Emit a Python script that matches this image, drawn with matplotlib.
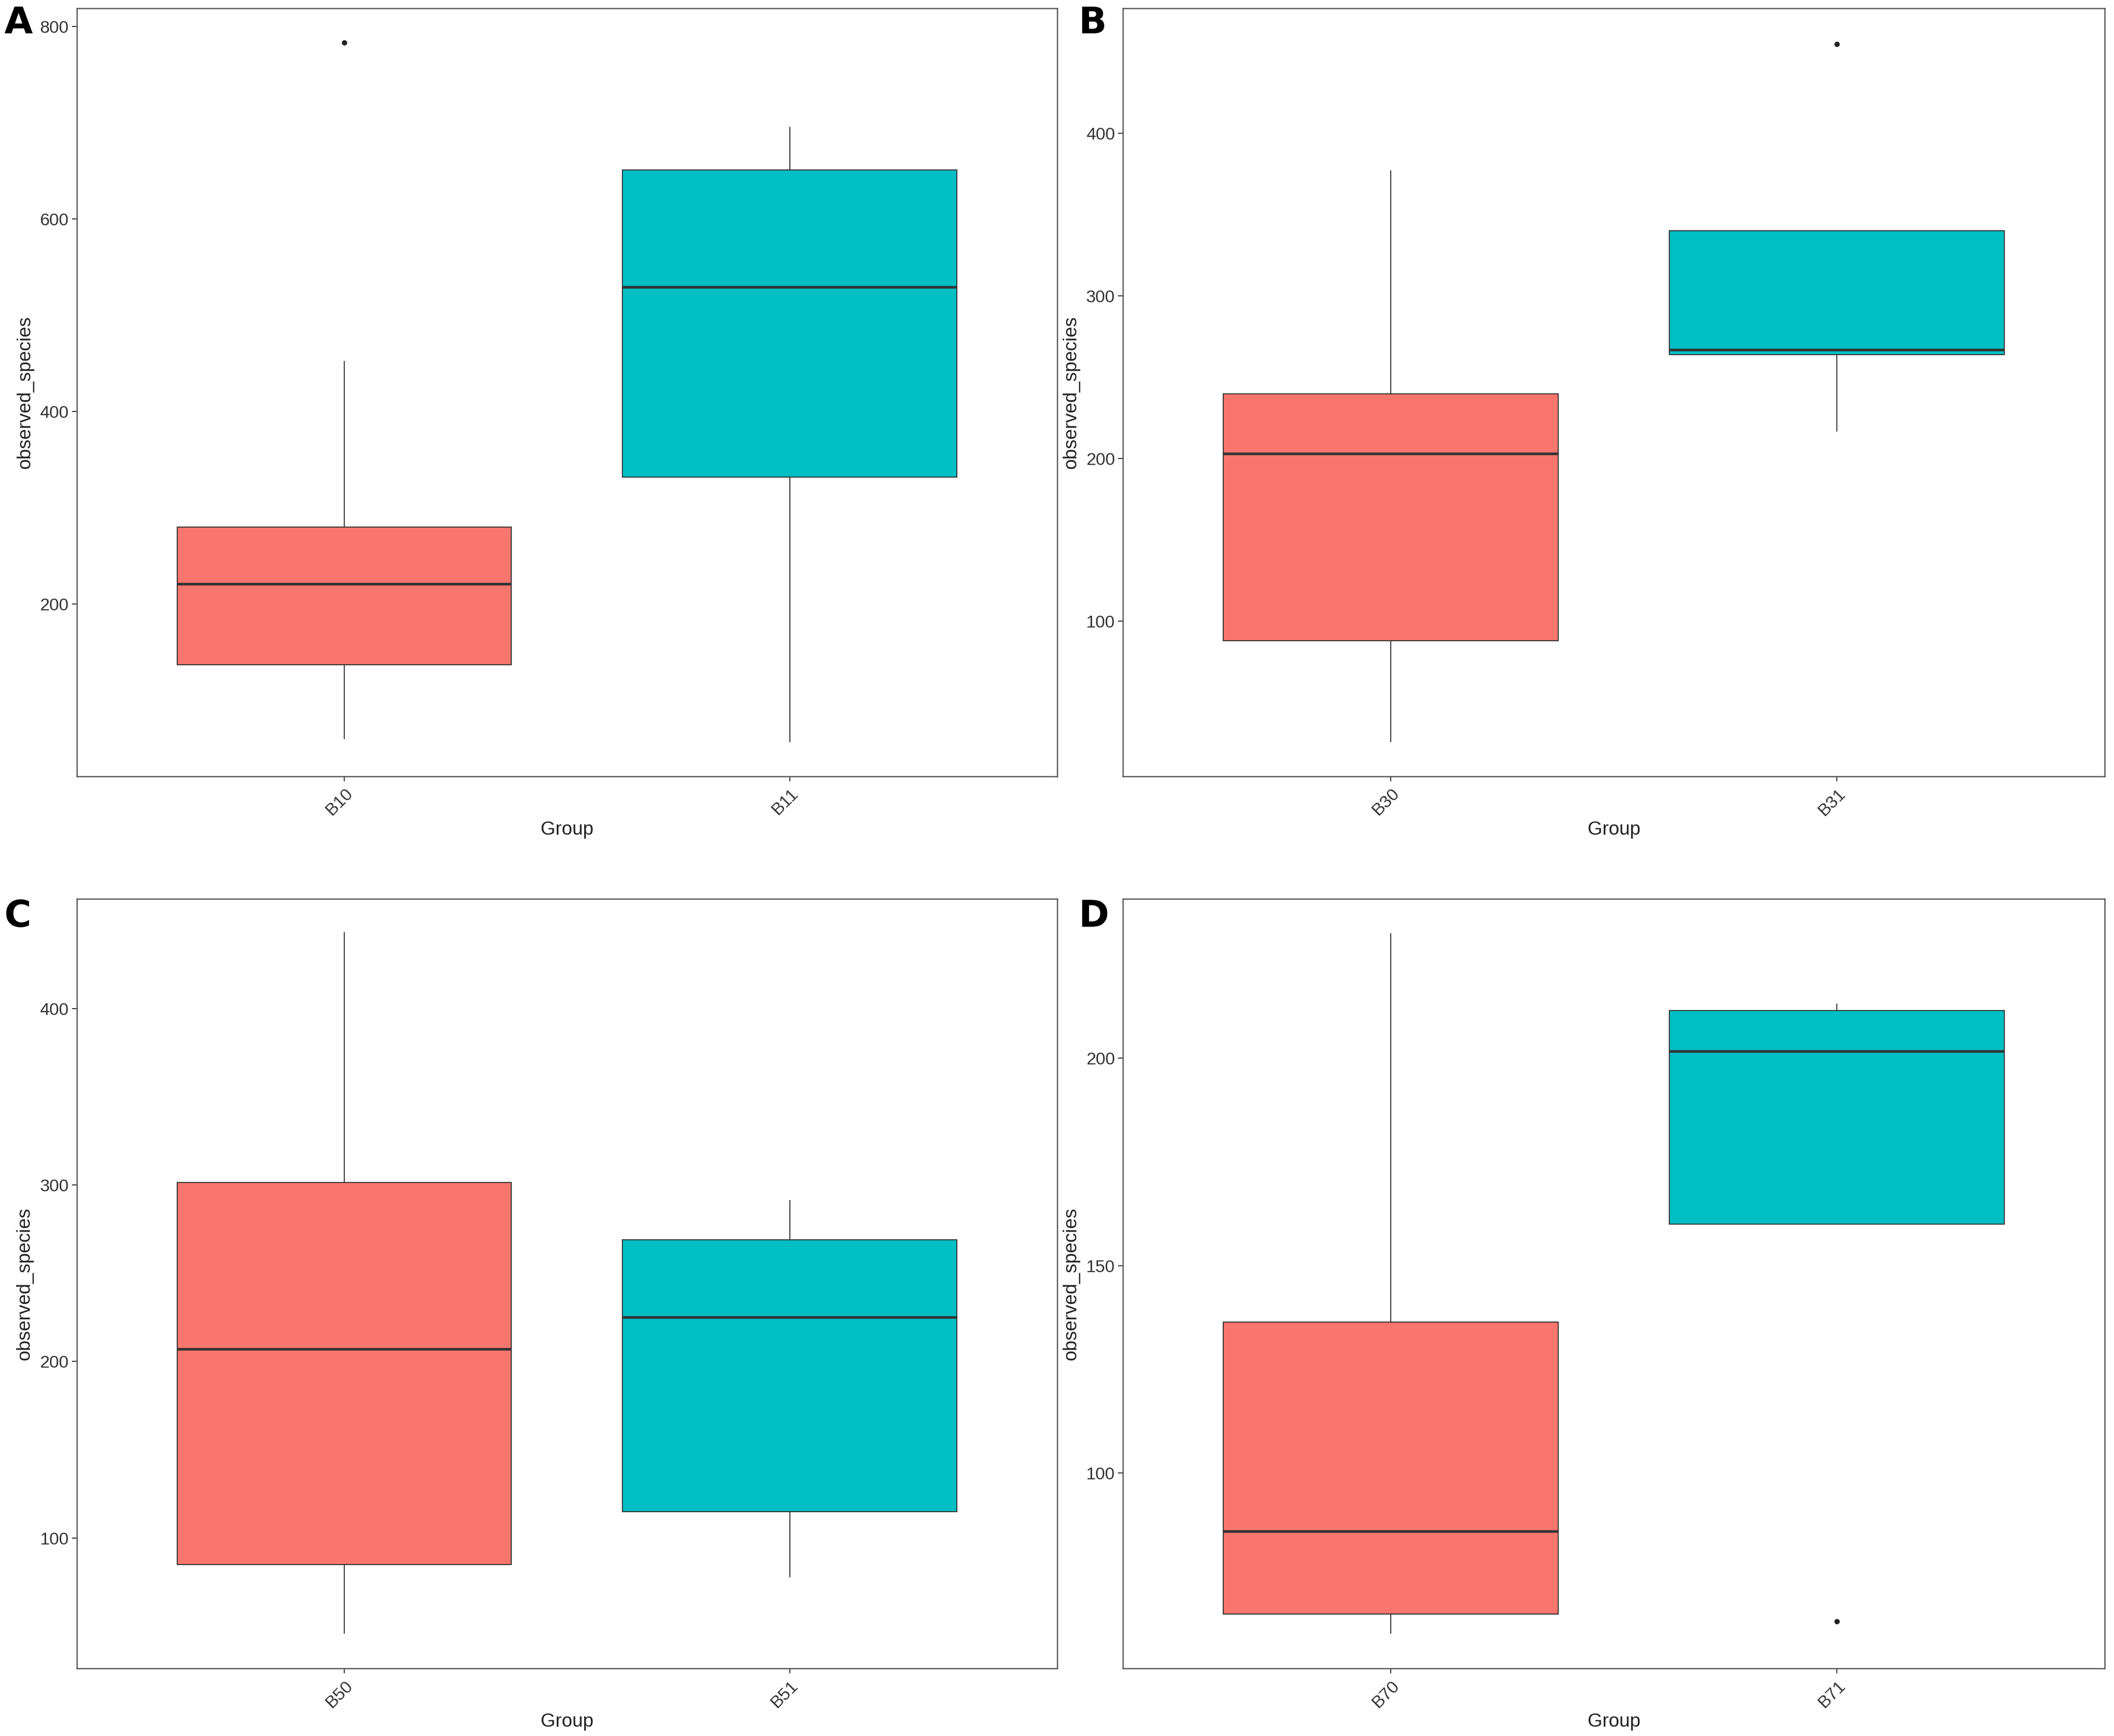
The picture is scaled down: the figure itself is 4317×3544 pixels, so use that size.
import matplotlib
matplotlib.use("Agg")
import matplotlib.pyplot as plt

RED = "#F8766D"
TEAL = "#00BFC4"
EDGE = "#333333"

# five-number summaries: (whislo, q1, med, q3, whishi)
groups_a = ["B10", "B11"]
stats_a = [(60, 137, 221, 280, 452), (57, 332, 529, 651, 695)]
fliers_a = [[783], []]

groups_b = ["B30", "B31"]
stats_b = [(26, 88, 203, 240, 377), (217, 264, 267, 340, 340)]
fliers_b = [[], [455]]

groups_c = ["B50", "B51"]
stats_c = [(46, 85, 207, 301.5, 443), (78, 115, 225, 269, 291)]
fliers_c = [[], []]

groups_d = ["B70", "B71"]
stats_d = [(61.4, 66, 86, 136.4, 230), (160, 160, 201.6, 211.4, 213)]
fliers_d = [[], [64.3]]

panels = [
    ("A", groups_a, stats_a, fliers_a, (21, 819), [200, 400, 600, 800]),
    ("B", groups_b, stats_b, fliers_b, (4.7, 477), [100, 200, 300, 400]),
    ("C", groups_c, stats_c, fliers_c, (26, 462), [100, 200, 300, 400]),
    ("D", groups_d, stats_d, fliers_d, (52.9, 238.3), [100, 150, 200]),
]

W, H = 1568.0, 1288.0
boxes = [  # axes rectangles in reference display pixels (x0, y0, x1, y1)
    (57, 6, 784, 576),
    (833, 6, 1561, 576),
    (57, 667, 784, 1238),
    (833, 667, 1561, 1238),
]
label_pos = [(3, 4), (800, 4), (3, 667), (800, 667)]

fig = plt.figure(figsize=(4317 / 300, 3544 / 300), dpi=300)
plt.rcParams["font.family"] = ["Liberation Sans", "DejaVu Sans"]

for (tag, groups, stats, fliers, ylim, yticks), (x0, y0, x1, y1), (lx, ly) in zip(panels, boxes, label_pos):
    ax = fig.add_axes([x0 / W, 1 - y1 / H, (x1 - x0) / W, (y1 - y0) / H])
    bxp_stats = []
    for name, (lo, q1, med, q3, hi), fl in zip(groups, stats, fliers):
        bxp_stats.append(dict(label=name, whislo=lo, q1=q1, med=med, q3=q3,
                              whishi=hi, fliers=fl))
    art = ax.bxp(bxp_stats, positions=[1, 2], widths=0.75, patch_artist=True,
                 showcaps=False,
                 boxprops=dict(edgecolor=EDGE, linewidth=0.5),
                 whiskerprops=dict(color=EDGE, linewidth=0.5),
                 medianprops=dict(color=EDGE, linewidth=1.3),
                 flierprops=dict(marker="o", markersize=1.6, markerfacecolor="#222222",
                                 markeredgecolor="#222222", linestyle="none"))
    for patch, col in zip(art["boxes"], [RED, TEAL]):
        patch.set_facecolor(col)
    for med in art["medians"]:
        med.set_solid_capstyle("butt")
    ax.set_xlim(0.4, 2.6)
    ax.set_ylim(*ylim)
    ax.set_yticks(yticks)
    ax.set_xticks([1, 2])
    ax.set_xticklabels(groups, rotation=45, ha="right", va="top",
                       rotation_mode="anchor")
    ax.tick_params(axis="both", labelsize=8.5, colors="#333333", length=2.5, width=0.5,
                   labelcolor="#333333")
    ax.tick_params(axis="x", pad=2)
    ax.tick_params(axis="y", pad=1.5)
    for s in ax.spines.values():
        s.set_color("#555555")
        s.set_linewidth(0.6)
    ax.set_xlabel("Group", fontsize=9.3, color="#222222", labelpad=1)
    ax.set_ylabel("observed_species", fontsize=9.3, color="#222222", labelpad=3)
    fig.text(lx / W, 1 - ly / H, tag, fontsize=18, fontweight="bold",
             ha="left", va="top", family="DejaVu Sans")

fig.savefig("out.png", dpi=300, facecolor="white")
